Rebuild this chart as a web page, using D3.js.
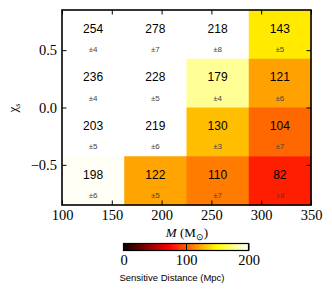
<!DOCTYPE html>
<html>
<head>
<meta charset="utf-8">
<script src="https://cdn.jsdelivr.net/npm/d3@7"></script>
<style>
  body { margin: 0; background: #fff; }
  svg { display: block; }
  .tick text { font-family: "Liberation Serif", serif; font-size: 14.5px; fill: #000; }
  .tick line { stroke: #000; stroke-width: 1; }
</style>
</head>
<body>
<div id="chart"></div>
<script>
// bin edges of the grid
var massEdges = [100, 162.5, 225, 287.5, 350]
var chiEdges = [0.85, 0.425, 0, -0.425, -0.85]

// sensitive distance (Mpc), rows from top (high chi) to bottom
var distances = [
    [254, 278, 218, 143],
    [236, 228, 179, 121],
    [203, 219, 130, 104],
    [198, 122, 110, 82]
]
var errors = [
    [4, 7, 8, 5],
    [4, 5, 4, 6],
    [5, 6, 3, 7],
    [6, 5, 7, 8]
]

var xTicks = [100, 150, 200, 250, 300, 350]
var yTicks = [-0.5, 0.0, 0.5]
var cbTicks = [0, 100, 200]

// matplotlib "hot" colormap stops
var hotStops = [0, 73.0, 149.2, 200]
var hotColors = ["rgb(11,0,0)", "rgb(255,0,0)", "rgb(255,255,0)", "rgb(255,255,255)"]

var W = 332, H = 294
var L = 62, R = 311, T = 10, B = 205

var svg = d3.select('#chart').append('svg')
    .attr('width', W)
    .attr('height', H)

var x = d3.scaleLinear().domain([100, 350]).range([L, R])
var y = d3.scaleLinear().domain([-0.85, 0.85]).range([B, T])
var color = d3.scaleLinear().domain(hotStops).range(hotColors).clamp(true)

var cells = []
distances.forEach(function(row, i){
    row.forEach(function(d, j){
        cells.push({i: i, j: j, value: d, err: errors[i][j]})
    })
})

svg.append('g').selectAll('rect')
    .data(cells)
    .enter()
    .append('rect')
    .attr('x', function(d){ return x(massEdges[d.j]) })
    .attr('y', function(d){ return y(chiEdges[d.i]) })
    .attr('width', function(d){ return x(massEdges[d.j + 1]) - x(massEdges[d.j]) + 0.5 })
    .attr('height', function(d){ return y(chiEdges[d.i + 1]) - y(chiEdges[d.i]) + 0.5 })
    .attr('fill', function(d){ return color(d.value) })

function cx(d){ return (x(massEdges[d.j]) + x(massEdges[d.j + 1])) / 2 }
function cy(d){ return (y(chiEdges[d.i]) + y(chiEdges[d.i + 1])) / 2 }

svg.append('g').selectAll('text')
    .data(cells)
    .enter()
    .append('text')
    .attr('x', cx)
    .attr('y', function(d){ return cy(d) - 6 })
    .attr('dy', '0.36em')
    .attr('text-anchor', 'middle')
    .style('font-family', '"Liberation Sans", Arial, sans-serif')
    .style('font-size', '12px')
    .text(function(d){ return d.value })

svg.append('g').selectAll('text')
    .data(cells)
    .enter()
    .append('text')
    .attr('x', cx)
    .attr('y', function(d){ return cy(d) + 14.5 })
    .attr('dy', '0.36em')
    .attr('text-anchor', 'middle')
    .style('font-family', '"Liberation Sans", Arial, sans-serif')
    .style('font-size', '8px')
    .style('fill', '#444')
    .text(function(d){ return '±' + d.err })

// ticks on all four sides, pointing in
svg.append('g').attr('transform', 'translate(0,' + B + ')')
    .call(d3.axisBottom(x).tickValues(xTicks).tickSize(-4.5).tickPadding(5).tickFormat(d3.format('d')))
svg.append('g').attr('transform', 'translate(0,' + T + ')')
    .call(d3.axisTop(x).tickValues(xTicks).tickSize(-4.5).tickFormat(''))
svg.append('g').attr('transform', 'translate(' + L + ',0)')
    .call(d3.axisLeft(y).tickValues(yTicks).tickSize(-4.5).tickPadding(5).tickFormat(d3.format('.1f')))
svg.append('g').attr('transform', 'translate(' + R + ',0)')
    .call(d3.axisRight(y).tickValues(yTicks).tickSize(-4.5).tickFormat(''))
svg.selectAll('.domain').remove()

svg.append('rect')
    .attr('x', L).attr('y', T)
    .attr('width', R - L).attr('height', B - T)
    .attr('fill', 'none')
    .attr('stroke', '#000')
    .attr('stroke-width', 1.6)

// axis labels
var xl = svg.append('text')
    .attr('x', 187).attr('y', 237)
    .attr('text-anchor', 'middle')
    .style('font-family', '"Liberation Serif", serif')
    .style('font-size', '13px')
xl.append('tspan').style('font-style', 'italic').text('M')
xl.append('tspan').text(' (M')
xl.append('tspan').attr('dy', 3).style('font-size', '9px').text('⊙')
xl.append('tspan').attr('dy', -3).text(')')

var yl = svg.append('text')
    .attr('transform', 'translate(17,108) rotate(-90)')
    .attr('text-anchor', 'middle')
    .style('font-family', '"Liberation Serif", serif')
    .style('font-size', '13px')
yl.append('tspan').text('χ')
yl.append('tspan').attr('dy', 3).style('font-size', '8px').text('s')

// colorbar
var cb = d3.scaleLinear().domain([0, 200]).range([123.5, 248.5])
var defs = svg.append('defs')
var grad = defs.append('linearGradient').attr('id', 'hot')
grad.selectAll('stop')
    .data(hotStops)
    .enter()
    .append('stop')
    .attr('offset', function(d){ return (d / 200 * 100) + '%' })
    .attr('stop-color', function(d, i){ return hotColors[i] })

svg.append('rect')
    .attr('x', cb(0)).attr('y', 243.5)
    .attr('width', cb(200) - cb(0)).attr('height', 7)
    .attr('fill', 'url(#hot)')
    .attr('stroke', '#000')
    .attr('stroke-width', 1.2)

var cbAxis = svg.append('g').attr('transform', 'translate(0,250.5)')
    .call(d3.axisBottom(cb).tickValues(cbTicks).tickSize(-7).tickPadding(4).tickFormat(d3.format('d')))
cbAxis.select('.domain').remove()

svg.append('text')
    .attr('x', 172).attr('y', 281)
    .attr('text-anchor', 'middle')
    .style('font-family', '"Liberation Sans", Arial, sans-serif')
    .style('font-size', '9.5px')
    .text('Sensitive Distance (Mpc)')
</script>
</body>
</html>
